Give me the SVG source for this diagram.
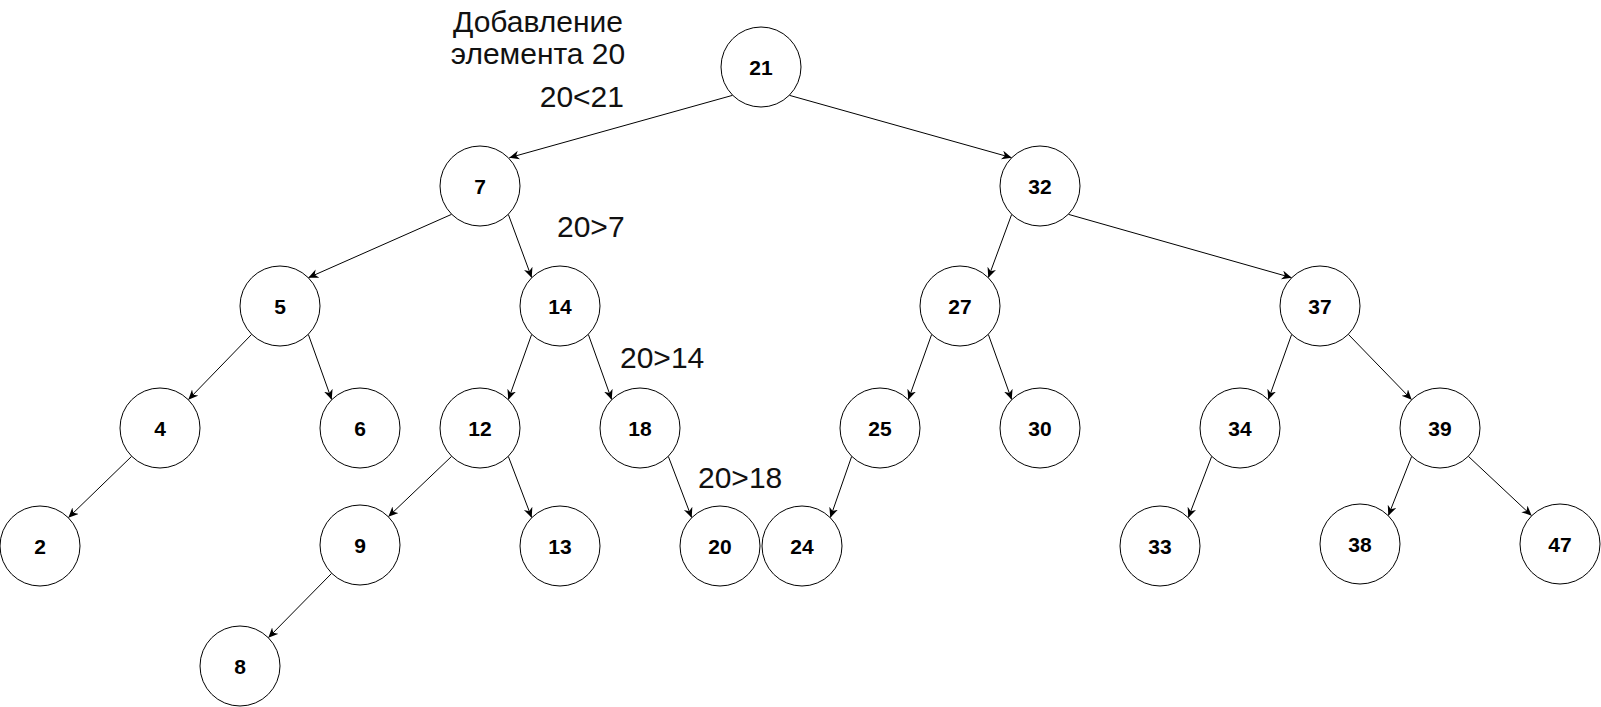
<svg xmlns="http://www.w3.org/2000/svg" width="1601" height="707" viewBox="0 0 1601 707">
<style>
.n circle{fill:#fff;stroke:#000;stroke-width:1}
.n text{font-family:"Liberation Sans",Arial,sans-serif;font-weight:bold;font-size:21px;text-anchor:middle;fill:#000}
.lbl{font-family:"Liberation Sans",Arial,sans-serif;font-size:30px;fill:#111}
.e line{stroke:#000;stroke-width:1;marker-end:url(#arr)}
</style>
<defs>
<marker id="arr" markerUnits="userSpaceOnUse" markerWidth="12" markerHeight="10" refX="10" refY="4.5" orient="auto" viewBox="0 0 12 10">
<path d="M0,0 L10,4.5 L0,9 L3,4.5 Z" fill="#000"/>
</marker>
</defs>
<rect width="1601" height="707" fill="#fff"/>
<g id="connectors" class="e">
<line x1="732.7" y1="95.3" x2="509.3" y2="157.7"/>
<line x1="789.3" y1="95.3" x2="1011.7" y2="157.7"/>
<line x1="451.7" y1="214.3" x2="308.3" y2="277.7"/>
<line x1="508.3" y1="214.3" x2="531.7" y2="277.7"/>
<line x1="251.7" y1="334.3" x2="188.3" y2="399.7"/>
<line x1="308.3" y1="334.3" x2="331.7" y2="399.7"/>
<line x1="531.7" y1="334.3" x2="508.3" y2="399.7"/>
<line x1="588.3" y1="334.3" x2="611.7" y2="399.7"/>
<line x1="131.7" y1="456.3" x2="68.3" y2="517.7"/>
<line x1="451.7" y1="456.3" x2="388.3" y2="516.7"/>
<line x1="508.3" y1="456.3" x2="531.7" y2="517.7"/>
<line x1="331.7" y1="573.3" x2="268.3" y2="637.7"/>
<line x1="668.3" y1="456.3" x2="691.7" y2="517.7"/>
<line x1="1011.7" y1="214.3" x2="988.3" y2="277.7"/>
<line x1="1068.3" y1="214.3" x2="1291.7" y2="277.7"/>
<line x1="931.7" y1="334.3" x2="908.3" y2="399.7"/>
<line x1="988.3" y1="334.3" x2="1011.7" y2="399.7"/>
<line x1="851.7" y1="456.3" x2="830.3" y2="517.7"/>
<line x1="1291.7" y1="334.3" x2="1268.3" y2="399.7"/>
<line x1="1348.3" y1="334.3" x2="1411.7" y2="399.7"/>
<line x1="1211.7" y1="456.3" x2="1188.3" y2="517.7"/>
<line x1="1411.7" y1="456.3" x2="1388.3" y2="515.7"/>
<line x1="1468.3" y1="456.3" x2="1531.7" y2="515.7"/>
</g>
<g id="n21" class="n"><circle cx="761" cy="67" r="40"/><text x="761" y="74.5">21</text></g>
<g id="n7" class="n"><circle cx="480" cy="186" r="40"/><text x="480" y="193.5">7</text></g>
<g id="n32" class="n"><circle cx="1040" cy="186" r="40"/><text x="1040" y="193.5">32</text></g>
<g id="n5" class="n"><circle cx="280" cy="306" r="40"/><text x="280" y="313.5">5</text></g>
<g id="n14" class="n"><circle cx="560" cy="306" r="40"/><text x="560" y="313.5">14</text></g>
<g id="n27" class="n"><circle cx="960" cy="306" r="40"/><text x="960" y="313.5">27</text></g>
<g id="n37" class="n"><circle cx="1320" cy="306" r="40"/><text x="1320" y="313.5">37</text></g>
<g id="n4" class="n"><circle cx="160" cy="428" r="40"/><text x="160" y="435.5">4</text></g>
<g id="n6" class="n"><circle cx="360" cy="428" r="40"/><text x="360" y="435.5">6</text></g>
<g id="n12" class="n"><circle cx="480" cy="428" r="40"/><text x="480" y="435.5">12</text></g>
<g id="n18" class="n"><circle cx="640" cy="428" r="40"/><text x="640" y="435.5">18</text></g>
<g id="n25" class="n"><circle cx="880" cy="428" r="40"/><text x="880" y="435.5">25</text></g>
<g id="n30" class="n"><circle cx="1040" cy="428" r="40"/><text x="1040" y="435.5">30</text></g>
<g id="n34" class="n"><circle cx="1240" cy="428" r="40"/><text x="1240" y="435.5">34</text></g>
<g id="n39" class="n"><circle cx="1440" cy="428" r="40"/><text x="1440" y="435.5">39</text></g>
<g id="n2" class="n"><circle cx="40" cy="546" r="40"/><text x="40" y="553.5">2</text></g>
<g id="n9" class="n"><circle cx="360" cy="545" r="40"/><text x="360" y="552.5">9</text></g>
<g id="n13" class="n"><circle cx="560" cy="546" r="40"/><text x="560" y="553.5">13</text></g>
<g id="n20" class="n"><circle cx="720" cy="546" r="40"/><text x="720" y="553.5">20</text></g>
<g id="n24" class="n"><circle cx="802" cy="546" r="40"/><text x="802" y="553.5">24</text></g>
<g id="n33" class="n"><circle cx="1160" cy="546" r="40"/><text x="1160" y="553.5">33</text></g>
<g id="n38" class="n"><circle cx="1360" cy="544" r="40"/><text x="1360" y="551.5">38</text></g>
<g id="n47" class="n"><circle cx="1560" cy="544" r="40"/><text x="1560" y="551.5">47</text></g>
<g id="n8" class="n"><circle cx="240" cy="666" r="40"/><text x="240" y="673.5">8</text></g>
<g id="labels">
<text class="lbl" x="538" y="32" text-anchor="middle">Добавление</text>
<text class="lbl" x="538" y="64" text-anchor="middle">элемента 20</text>
<text class="lbl" x="624" y="107" text-anchor="end">20&lt;21</text>
<text class="lbl" x="557" y="237">20&gt;7</text>
<text class="lbl" x="620" y="368">20&gt;14</text>
<text class="lbl" x="698" y="488">20&gt;18</text>
</g>
</svg>
